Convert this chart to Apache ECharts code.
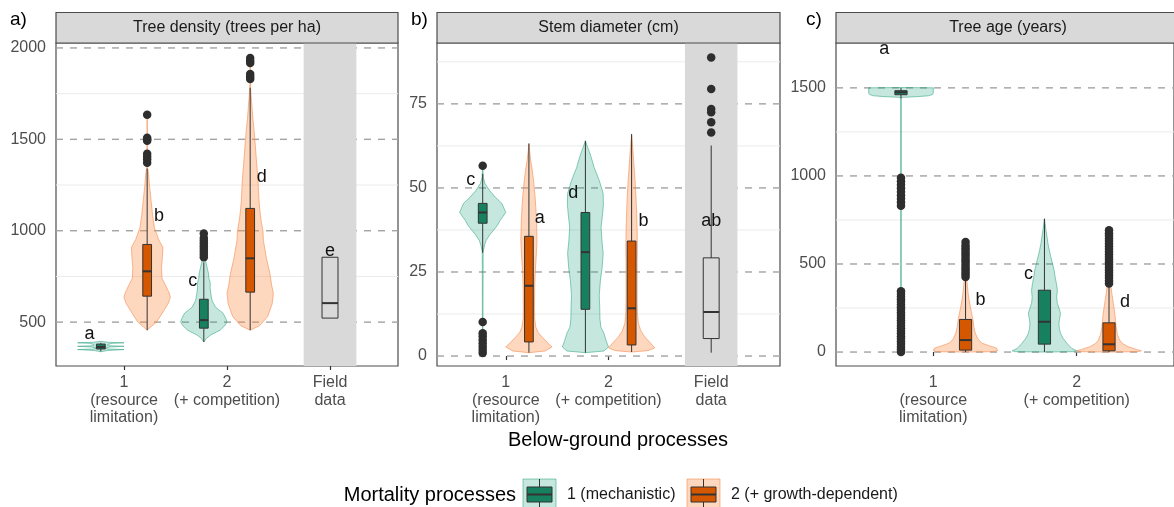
<!DOCTYPE html>
<html>
<head>
<meta charset="utf-8">
<script src="https://cdn.jsdelivr.net/npm/echarts@6/dist/echarts.min.js"></script>
<style>
  html, body { margin: 0; background: #fff; }
  #chart { width: 1174px; height: 507px; }
</style>
</head>
<body>
<div id="chart"></div>
<script>
// ==== DATA ====
const panelTitles = ["Tree density (trees per ha)", "Stem diameter (cm)", "Tree age (years)"];
const panelTags = ["a)", "b)", "c)"];
const xTickLabels = ["1\n(resource\nlimitation)", "2\n(+ competition)", "Field\ndata"];
const xTicksAB = [1, 2, 3];
const xTicksC = [1, 2];

const yMajorA = [500, 1000, 1500, 2000];
const yMinorA = [750, 1250, 1750];
const yMajorB = [0, 25, 50, 75];
const yMinorB = [12.5, 37.5, 62.5, 87.5];
const yMajorC = [0, 500, 1000, 1500];
const yMinorC = [250, 750, 1250];

const legendTitle = "Mortality processes";
const legendNames = ["1 (mechanistic)", "2 (+ growth-dependent)"];
const xTitle = "Below-ground processes";

// violin profiles: [value, relative half width]
const densityViolinMech = [
  [[338, 0], [345, 0.3], [350, 1], [353, 0.3], [358, 0.2], [364, 0.4], [368, 1], [371, 0.3], [378, 0.3], [384, 0.5], [387, 1], [390, 0.3], [395, 0]],
  [[391, 0], [410, 0.1], [430, 0.3], [456, 0.7], [480, 0.9], [500, 1], [520, 0.95], [549, 0.83], [582, 0.5], [620, 0.35], [658, 0.3], [690, 0.27], [713, 0.28], [740, 0.22], [767, 0.2], [800, 0.14], [822, 0.1], [850, 0.04], [900, 0.01], [985, 0]]
];
const densityViolinGrowth = [
  [[456, 0], [473, 0.15], [500, 0.4], [549, 0.65], [600, 0.9], [636, 1], [660, 0.95], [700, 0.8], [740, 0.64], [800, 0.62], [860, 0.66], [909, 0.68], [950, 0.5], [1018, 0.31], [1080, 0.24], [1165, 0.17], [1250, 0.1], [1312, 0.06], [1345, 0.02], [1400, 0.01], [1634, 0]],
  [[456, 0], [480, 0.4], [530, 0.75], [600, 0.95], [658, 1], [700, 0.93], [767, 0.85], [850, 0.7], [947, 0.57], [1000, 0.55], [1056, 0.47], [1110, 0.42], [1165, 0.38], [1220, 0.36], [1274, 0.34], [1340, 0.3], [1400, 0.26], [1470, 0.22], [1547, 0.17], [1610, 0.12], [1673, 0.08], [1740, 0.04], [1782, 0.02], [1850, 0.01], [1945, 0]]
];
const diameterViolinMech = [
  [[0.5, 0], [5, 0.01], [31, 0.02], [33, 0.08], [34.4, 0.15], [36, 0.3], [37.4, 0.47], [39, 0.65], [40.3, 0.75], [42.7, 1], [45.4, 0.83], [47.2, 0.55], [49.2, 0.3], [51.3, 0.1], [53, 0.03], [56.6, 0]],
  [[1, 0], [1.5, 0.8], [2.7, 1], [4.5, 0.9], [6.8, 0.8], [8.6, 0.67], [11, 0.63], [14.5, 0.62], [18, 0.6], [22.5, 0.65], [26, 0.72], [30.5, 0.77], [34, 0.72], [38.3, 0.68], [42, 0.74], [45, 0.78], [48.3, 0.77], [50, 0.7], [52.2, 0.6], [54, 0.5], [56, 0.38], [58, 0.3], [60.2, 0.2], [62, 0.1], [64, 0]]
];
const diameterViolinGrowth = [
  [[1, 0], [1.5, 0.7], [2.7, 1], [4, 0.8], [5.6, 0.58], [7, 0.4], [8.6, 0.3], [11, 0.25], [14.5, 0.24], [20, 0.25], [24.6, 0.27], [30, 0.32], [34.4, 0.35], [40, 0.33], [44.2, 0.3], [48, 0.26], [52.2, 0.2], [56, 0.13], [58, 0.08], [61, 0.03], [63.2, 0]],
  [[1.2, 0], [1.6, 0.7], [2.4, 1], [4, 0.8], [5.7, 0.57], [7.5, 0.4], [9.8, 0.29], [13, 0.25], [17.5, 0.24], [22, 0.24], [27.6, 0.24], [32, 0.25], [37.4, 0.24], [42, 0.22], [47.2, 0.19], [51, 0.16], [55.2, 0.12], [58, 0.09], [62, 0.05], [66, 0]]
];
const ageViolinMech = [
  [[0, 0], [5, 0.01], [1440, 0.01], [1446, 0.03], [1450, 0.5], [1455, 0.85], [1462, 0.97], [1470, 1], [1500, 1], [1502, 0]],
  [[0, 0], [2, 0.9], [7, 1], [20, 0.85], [49, 0.7], [80, 0.57], [106, 0.5], [135, 0.46], [162, 0.45], [190, 0.47], [219, 0.5], [250, 0.45], [276, 0.4], [310, 0.38], [351, 0.4], [390, 0.37], [427, 0.33], [465, 0.3], [502, 0.25], [540, 0.2], [578, 0.15], [615, 0.11], [653, 0.08], [700, 0.04], [757, 0]]
];
const ageViolinGrowth = [
  [[0, 0], [2, 0.9], [10, 1], [23, 0.95], [35, 0.75], [51, 0.5], [75, 0.38], [108, 0.3], [140, 0.26], [181, 0.23], [220, 0.19], [256, 0.15], [295, 0.11], [334, 0.08], [370, 0.06], [408, 0.04], [450, 0.02], [625, 0]],
  [[0, 0], [2, 0.9], [7, 1], [15, 0.85], [30, 0.6], [48, 0.42], [68, 0.33], [100, 0.26], [143, 0.22], [180, 0.2], [219, 0.18], [256, 0.15], [294, 0.12], [330, 0.09], [370, 0.06], [420, 0.04], [500, 0.02], [691, 0]]
];

// boxes: [category, lower whisker, q1, median, q3, upper whisker]
const densityBoxMech = [[1, 340, 353, 364, 380, 387], [2, 391, 467, 511, 625, 827]];
const densityBoxGrowth = [[1, 456, 642, 778, 925, 1340], [2, 456, 664, 849, 1122, 1782]];
const densityBoxField = [[3, 522, 522, 604, 855, 855]];
const diameterBoxMech = [[1, 30.7, 39.5, 42.7, 45.4, 54.2], [2, 1, 13.9, 30.9, 42.7, 64]];
const diameterBoxGrowth = [[1, 1, 4.2, 20.9, 35.6, 63.2], [2, 1.2, 3.3, 14.2, 34.2, 66]];
const diameterBoxField = [[3, 1, 5.2, 13.1, 29.2, 62.6]];
const ageBoxMech = [[1, 1440, 1461, 1475, 1484, 1500], [2, 0, 45, 172, 351, 757]];
const ageBoxGrowth = [[1, 0, 11, 68, 185, 419], [2, 0, 7, 44, 166, 379]];

// outliers
const densityOutMech2 = [855, 870, 885, 900, 915, 930, 945, 960, 985];
const densityOutGrowth1 = [1372, 1390, 1405, 1421, 1492, 1500, 1509, 1634];
const densityOutGrowth2 = [1830, 1843, 1858, 1918, 1930, 1945];
const diameterOutMech1 = [0.9, 1.8, 2.8, 3.8, 4.8, 5.8, 6.8, 10.1, 56.6];
const diameterOutField = [66.5, 69.5, 72.5, 73.5, 79.4, 88.8];
const ageOutMech1 = [0, 15, 30, 45, 60, 75, 90, 105, 120, 135, 150, 165, 180, 195, 210, 225, 240, 255, 270, 285, 300, 315, 330, 345, 830, 850, 870, 890, 910, 930, 950, 970, 990];
const ageOutGrowth1 = [426, 440, 455, 470, 485, 500, 515, 530, 545, 560, 575, 590, 605, 625];
const ageOutGrowth2 = [389, 405, 420, 435, 450, 465, 480, 495, 510, 525, 540, 555, 570, 585, 600, 615, 630, 645, 660, 675, 691];

// significance letters: [x, y]
const densityLetterPos = [[0.665, 433], [1.34, 1083], [1.667, 724], [2.337, 1292], [3, 889]];
const densityLetterText = ["a", "b", "c", "d", "e"];
const diameterLetterPos = [[0.659, 52.2], [1.33, 41.1], [1.657, 48.5], [2.34, 40.1], [3, 40.1]];
const diameterLetterText = ["c", "a", "d", "b", "ab"];
const ageLetterPos = [[0.658, 1722], [1.33, 294], [1.664, 442], [2.336, 283]];
const ageLetterText = ["a", "b", "c", "d"];

// ==== STYLE / LAYOUT ====
const FONT = '"Liberation Sans", Arial, sans-serif';
const INK = "#333333";
const GREEN = "#16805f";
const ORANGE = "#d55800";
const GREEN_FILL = "rgba(27,158,119,0.25)";
const GREEN_LINE = "rgba(27,158,119,0.5)";
const ORANGE_FILL = "rgba(250,140,70,0.35)";
const ORANGE_LINE = "rgba(245,140,80,0.6)";
const VIOLIN_HALF = 0.225;
const DODGE = 0.225;
const BOX_W = 0.085;
const FIELD_W = 0.155;
const TOP = 43;
const HEIGHT = 323;

const panels = [
  { left: 56, width: 342, xMin: 0.34, xMax: 3.66, yMin: 260, yMax: 2027, xTicks: xTicksAB, yLabels: yMajorA },
  { left: 437, width: 343, xMin: 0.33, xMax: 3.67, yMin: -2.96, yMax: 93.1, xTicks: xTicksAB, yLabels: yMajorB },
  { left: 836, width: 344, xMin: 0.322, xMax: 2.678, yMin: -79.2, yMax: 1754.7, xTicks: xTicksC, yLabels: yMajorC }
];

function guideSeries(p, values, dashed) {
  return {
    type: "custom", xAxisIndex: p, yAxisIndex: p, silent: true,
    data: values.map(function (v) { return [1, v]; }),
    renderItem: function (params, api) {
      const a = api.coord([panels[p].xMin, api.value(1)]);
      const b = api.coord([panels[p].xMax, api.value(1)]);
      return {
        type: "line",
        shape: { x1: a[0], y1: a[1], x2: b[0], y2: b[1] },
        style: dashed
          ? { stroke: "#a3a3a3", lineWidth: 1.4, lineDash: [7, 7] }
          : { stroke: "#ebebeb", lineWidth: 1 }
      };
    }
  };
}

function bandSeries(p, center) {
  return {
    type: "custom", xAxisIndex: p, yAxisIndex: p, silent: true,
    data: [[center, 0]],
    renderItem: function (params, api) {
      const a = api.coord([center - FIELD_W * 1.65, panels[p].yMax]);
      const b = api.coord([center + FIELD_W * 1.65, panels[p].yMin]);
      return {
        type: "rect",
        shape: { x: a[0], y: a[1], width: b[0] - a[0], height: b[1] - a[1] },
        style: { fill: "#d9d9d9" }
      };
    }
  };
}

function violinSeries(p, cats, profiles, offset, fill, stroke) {
  return {
    type: "custom", xAxisIndex: p, yAxisIndex: p, silent: true,
    data: cats.map(function (c, i) { return [c + offset, i]; }),
    renderItem: function (params, api) {
      const cx = api.value(0);
      const prof = profiles[params.dataIndex];
      const pts = [];
      prof.forEach(function (d) { pts.push(api.coord([cx + d[1] * VIOLIN_HALF, d[0]])); });
      prof.slice().reverse().forEach(function (d) { pts.push(api.coord([cx - d[1] * VIOLIN_HALF, d[0]])); });
      return {
        type: "polygon",
        shape: { points: pts },
        style: { fill: fill, stroke: stroke, lineWidth: 1 }
      };
    }
  };
}

function boxSeries(p, boxes, offset, width, fill) {
  return {
    type: "custom", xAxisIndex: p, yAxisIndex: p, silent: true,
    data: boxes.map(function (b) { return [b[0] + offset, b[1], b[2], b[3], b[4], b[5]]; }),
    renderItem: function (params, api) {
      const cx = api.value(0);
      const half = api.size([width / 2, 0])[0];
      const lo = api.coord([cx, api.value(1)]);
      const q1 = api.coord([cx, api.value(2)]);
      const med = api.coord([cx, api.value(3)]);
      const q3 = api.coord([cx, api.value(4)]);
      const hi = api.coord([cx, api.value(5)]);
      const x = lo[0];
      return {
        type: "group",
        children: [
          { type: "line", shape: { x1: x, y1: hi[1], x2: x, y2: q3[1] }, style: { stroke: INK, lineWidth: 1 } },
          { type: "line", shape: { x1: x, y1: q1[1], x2: x, y2: lo[1] }, style: { stroke: INK, lineWidth: 1 } },
          { type: "rect", shape: { x: x - half, y: q3[1], width: 2 * half, height: q1[1] - q3[1] },
            style: { fill: fill, stroke: INK, lineWidth: 1 } },
          { type: "line", shape: { x1: x - half, y1: med[1], x2: x + half, y2: med[1] }, style: { stroke: INK, lineWidth: 2 } }
        ]
      };
    }
  };
}

function outlierSeries(p, groups) {
  const data = [];
  groups.forEach(function (g) {
    g[1].forEach(function (v) { data.push([g[0], v]); });
  });
  return {
    type: "scatter", xAxisIndex: p, yAxisIndex: p, silent: true,
    symbolSize: 8.5,
    itemStyle: { color: "#2e2e2e", opacity: 1 },
    data: data
  };
}

function letterSeries(p, pos, texts) {
  return {
    type: "custom", xAxisIndex: p, yAxisIndex: p, silent: true,
    data: pos,
    renderItem: function (params, api) {
      const pt = api.coord([api.value(0), api.value(1)]);
      return {
        type: "text",
        x: pt[0], y: pt[1],
        style: {
          text: texts[params.dataIndex], fill: "#111", font: "18px " + FONT,
          align: "center", verticalAlign: "middle", textAlign: "center", textVerticalAlign: "middle"
        }
      };
    }
  };
}

const series = [
  // panel a
  guideSeries(0, yMinorA, false),
  guideSeries(0, yMajorA, true),
  bandSeries(0, 3),
  violinSeries(0, [1, 2], densityViolinMech, -DODGE, GREEN_FILL, GREEN_LINE),
  violinSeries(0, [1, 2], densityViolinGrowth, DODGE, ORANGE_FILL, ORANGE_LINE),
  boxSeries(0, densityBoxMech, -DODGE, BOX_W, GREEN),
  boxSeries(0, densityBoxGrowth, DODGE, BOX_W, ORANGE),
  boxSeries(0, densityBoxField, 0, FIELD_W, "rgba(0,0,0,0)"),
  outlierSeries(0, [[2 - DODGE, densityOutMech2], [1 + DODGE, densityOutGrowth1], [2 + DODGE, densityOutGrowth2]]),
  letterSeries(0, densityLetterPos, densityLetterText),
  // panel b
  guideSeries(1, yMinorB, false),
  guideSeries(1, yMajorB, true),
  bandSeries(1, 3),
  violinSeries(1, [1, 2], diameterViolinMech, -DODGE, GREEN_FILL, GREEN_LINE),
  violinSeries(1, [1, 2], diameterViolinGrowth, DODGE, ORANGE_FILL, ORANGE_LINE),
  boxSeries(1, diameterBoxMech, -DODGE, BOX_W, GREEN),
  boxSeries(1, diameterBoxGrowth, DODGE, BOX_W, ORANGE),
  boxSeries(1, diameterBoxField, 0, FIELD_W, "rgba(0,0,0,0)"),
  outlierSeries(1, [[1 - DODGE, diameterOutMech1], [3, diameterOutField]]),
  letterSeries(1, diameterLetterPos, diameterLetterText),
  // panel c
  guideSeries(2, yMinorC, false),
  guideSeries(2, yMajorC, true),
  violinSeries(2, [1, 2], ageViolinMech, -DODGE, GREEN_FILL, GREEN_LINE),
  violinSeries(2, [1, 2], ageViolinGrowth, DODGE, ORANGE_FILL, ORANGE_LINE),
  boxSeries(2, ageBoxMech, -DODGE, BOX_W, GREEN),
  boxSeries(2, ageBoxGrowth, DODGE, BOX_W, ORANGE),
  outlierSeries(2, [[1 - DODGE, ageOutMech1], [1 + DODGE, ageOutGrowth1], [2 + DODGE, ageOutGrowth2]]),
  letterSeries(2, ageLetterPos, ageLetterText)
];

const graphic = [];
const tagX = [10, 411, 806];
panels.forEach(function (pn, i) {
  graphic.push({
    type: "rect", z: 10,
    shape: { x: pn.left, y: 12.5, width: pn.width, height: 30.5 },
    style: { fill: "#d9d9d9", stroke: "#4d4d4d", lineWidth: 1.2 }
  });
  graphic.push({
    type: "text", z: 11, x: pn.left + pn.width / 2, y: 28,
    style: { text: panelTitles[i], font: "16px " + FONT, fill: "#1a1a1a",
      align: "center", verticalAlign: "middle", textAlign: "center", textVerticalAlign: "middle" }
  });
  graphic.push({
    type: "text", z: 11, x: tagX[i], y: 20,
    style: { text: panelTags[i], font: "19px " + FONT, fill: "#000",
      align: "left", verticalAlign: "middle", textAlign: "left", textVerticalAlign: "middle" }
  });
});

graphic.push({
  type: "text", x: 618, y: 440,
  style: { text: xTitle, font: "20px " + FONT, fill: "#000",
    align: "center", verticalAlign: "middle", textAlign: "center", textVerticalAlign: "middle" }
});
graphic.push({
  type: "text", x: 516, y: 495,
  style: { text: legendTitle, font: "20px " + FONT, fill: "#000",
    align: "right", verticalAlign: "middle", textAlign: "right", textVerticalAlign: "middle" }
});

function legendKey(x, fill, bg, line) {
  return [
    { type: "rect", shape: { x: x, y: 479, width: 33, height: 34 }, style: { fill: bg, stroke: line, lineWidth: 1 } },
    { type: "line", shape: { x1: x + 16.5, y1: 479, x2: x + 16.5, y2: 513 }, style: { stroke: INK, lineWidth: 1 } },
    { type: "rect", shape: { x: x + 4, y: 487, width: 25, height: 15 }, style: { fill: fill, stroke: INK, lineWidth: 1 } },
    { type: "line", shape: { x1: x + 4, y1: 494.5, x2: x + 29, y2: 494.5 }, style: { stroke: INK, lineWidth: 2 } }
  ];
}
legendKey(523, GREEN, GREEN_FILL, GREEN_LINE).forEach(function (g) { graphic.push(g); });
legendKey(687, ORANGE, ORANGE_FILL, ORANGE_LINE).forEach(function (g) { graphic.push(g); });
graphic.push({
  type: "text", x: 567, y: 495,
  style: { text: legendNames[0], font: "16px " + FONT, fill: "#1a1a1a",
    align: "left", verticalAlign: "middle", textAlign: "left", textVerticalAlign: "middle" }
});
graphic.push({
  type: "text", x: 731, y: 495,
  style: { text: legendNames[1], font: "16px " + FONT, fill: "#1a1a1a",
    align: "left", verticalAlign: "middle", textAlign: "left", textVerticalAlign: "middle" }
});

const chart = echarts.init(document.getElementById("chart"), null, { renderer: "canvas" });
chart.setOption({
  animation: false,
  backgroundColor: "#fff",
  grid: panels.map(function (pn) {
    return {
      left: pn.left, top: TOP, width: pn.width, height: HEIGHT,
      show: true, borderColor: "#4d4d4d", borderWidth: 1.2, backgroundColor: "rgba(0,0,0,0)"
    };
  }),
  xAxis: panels.map(function (pn, i) {
    return {
      type: "value", gridIndex: i, min: pn.xMin, max: pn.xMax,
      splitLine: { show: false },
      axisLine: { show: false },
      axisTick: { show: true, customValues: pn.xTicks, length: 4, lineStyle: { color: INK, width: 1.2 } },
      axisLabel: {
        customValues: pn.xTicks, margin: 8,
        color: "#4d4d4d", fontSize: 16, lineHeight: 17.5, fontFamily: FONT,
        formatter: function (v) { return xTickLabels[Math.round(v) - 1]; }
      }
    };
  }),
  yAxis: panels.map(function (pn, i) {
    return {
      type: "value", gridIndex: i, min: pn.yMin, max: pn.yMax,
      splitLine: { show: false },
      axisLine: { show: false },
      axisTick: { show: false },
      axisLabel: {
        customValues: pn.yLabels, margin: 10,
        color: "#4d4d4d", fontSize: 16, fontFamily: FONT,
        formatter: function (v) { return String(v); }
      }
    };
  }),
  series: series,
  graphic: graphic
});
</script>
</body>
</html>
